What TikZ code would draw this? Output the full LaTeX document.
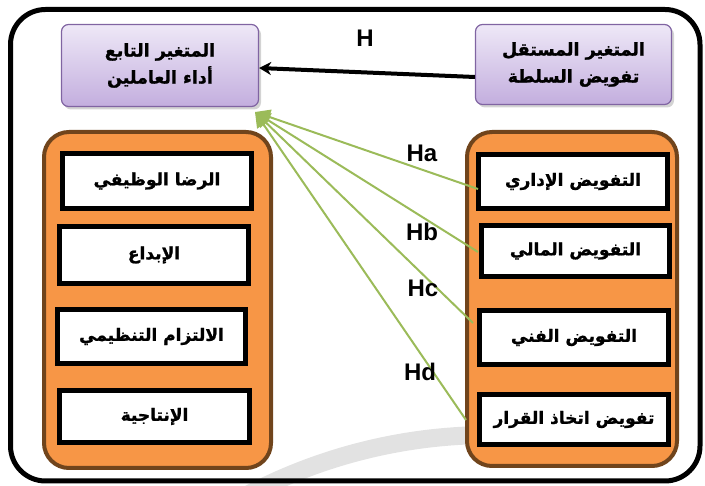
\documentclass[tikz,border=0pt]{standalone}
\usepackage{fontspec}
\setmainfont{Liberation Sans}
\newfontfamily\arabicfont[Script=Arabic,BoldFeatures={FakeBold=1.2}]{DejaVu Sans}
\TeXXeTstate=1
\usetikzlibrary{shadows,arrows.meta,calc}
\definecolor{orangefill}{HTML}{F79646}
\definecolor{panelbrown}{HTML}{70441C}
\definecolor{purpleborder}{HTML}{8064A2}
\definecolor{lavtop}{HTML}{EEE8F7}
\definecolor{lavbot}{HTML}{C3AEDE}
\definecolor{arrowgreen}{HTML}{9BBB59}
\definecolor{watergray}{HTML}{E2E2E2}
\tikzset{
  outerframe/.style={draw=black, line width=5pt, rounded corners=35pt},
  purplebox/.style={draw=purpleborder, line width=1.2pt, rounded corners=7pt,
    top color=lavtop, bottom color=lavbot,
    drop shadow={shadow xshift=2.5pt, shadow yshift=-3pt, opacity=0.35},
    align=center, inner sep=0pt,
    font=\arabicfont\bfseries\fontsize{17.5}{27}\selectfont},
  panel/.style={draw=panelbrown, line width=4pt, fill=orangefill, rounded corners=25pt},
  itembox/.style={draw=black, line width=5pt, fill=white, inner sep=0pt,
    font=\arabicfont\bfseries\fontsize{17}{20}\selectfont},
  greenarrow/.style={draw=arrowgreen, line width=2pt, -{Triangle[width=15pt,length=15pt]}},
  blackarrow/.style={draw=black, line width=4pt, -{Stealth[width=13pt,length=12pt]}},
  hlabel/.style={font=\bfseries\fontsize{24}{26}\selectfont, inner sep=0pt}
}
\begin{document}
\begin{tikzpicture}[x=1pt,y=-1pt]
\useasboundingbox (0,0) rectangle (705,486);
% watermark arc
\draw[watergray, line width=18pt] (490,956) ++(-120:521) arc[start angle=-120, end angle=-88, radius=521];
% outer frame
\node[outerframe, minimum width=689.5pt, minimum height=471.5pt, inner sep=0pt] (frame) at (355.25,245.25) {};
% panels
\node[panel, minimum width=227pt, minimum height=336pt] (lpanel) at (157.5,300) {};
\node[panel, minimum width=210pt, minimum height=334pt] (rpanel) at (572,299) {};
% purple boxes
\node[purplebox, minimum width=197pt, minimum height=82pt] (dep) at (160,65.5)
  {\beginR المتغير التابع\endR\\\beginR أداء العاملين\endR};
\node[purplebox, minimum width=196pt, minimum height=80pt] (ind) at (573.5,64.5)
  {\beginR المتغير المستقل\endR\\\beginR تفويض السلطة\endR};
% left items
\node[itembox, minimum width=189pt, minimum height=55pt] (l1) at (157,181) {\beginR الرضا الوظيفي\endR};
\node[itembox, minimum width=189pt, minimum height=57pt] (l2) at (154,255) {\beginR الإبداع\endR};
\node[itembox, minimum width=188pt, minimum height=54pt] (l3) at (151.5,336.5) {\beginR الالتزام التنظيمي\endR};
\node[itembox, minimum width=190pt, minimum height=52pt] (l4) at (154.5,416.5) {\beginR الإنتاجية\endR};
% right items
\node[itembox, minimum width=189pt, minimum height=54pt] (r1) at (573,181.5) {\beginR التفويض الإداري\endR};
\node[itembox, minimum width=188pt, minimum height=51pt] (r2) at (575.5,251) {\beginR التفويض المالي\endR};
\node[itembox, minimum width=189pt, minimum height=54pt] (r3) at (574,337.5) {\beginR التفويض الفني\endR};
\node[itembox, minimum width=189pt, minimum height=50pt] (r4) at (574,419.5) {\beginR تفويض اتخاذ القرار\endR};
% arrows
\coordinate (tgt) at (255,112);
\draw[blackarrow] ([yshift=-12.5pt]ind.west) -- ([yshift=-2.5pt]dep.east);
\draw[greenarrow] ([xshift=2pt,yshift=-7.5pt]r1.west) -- (tgt);
\draw[greenarrow] ([xshift=-1pt,yshift=-1pt]r2.west) -- (tgt);
\draw[greenarrow] ([xshift=-4pt,yshift=14.5pt]r3.west) -- (tgt);
\draw[greenarrow] ([xshift=-11pt,yshift=-0.5pt]r4.west) -- (tgt);
% labels
\node[hlabel] (h) at (365,38) {H};
\node[hlabel] (ha) at (422,153) {Ha};
\node[hlabel] (hb) at (422,232) {Hb};
\node[hlabel] (hc) at (423,288) {Hc};
\node[hlabel] (hd) at (420,372) {Hd};
\end{tikzpicture}
\end{document}
